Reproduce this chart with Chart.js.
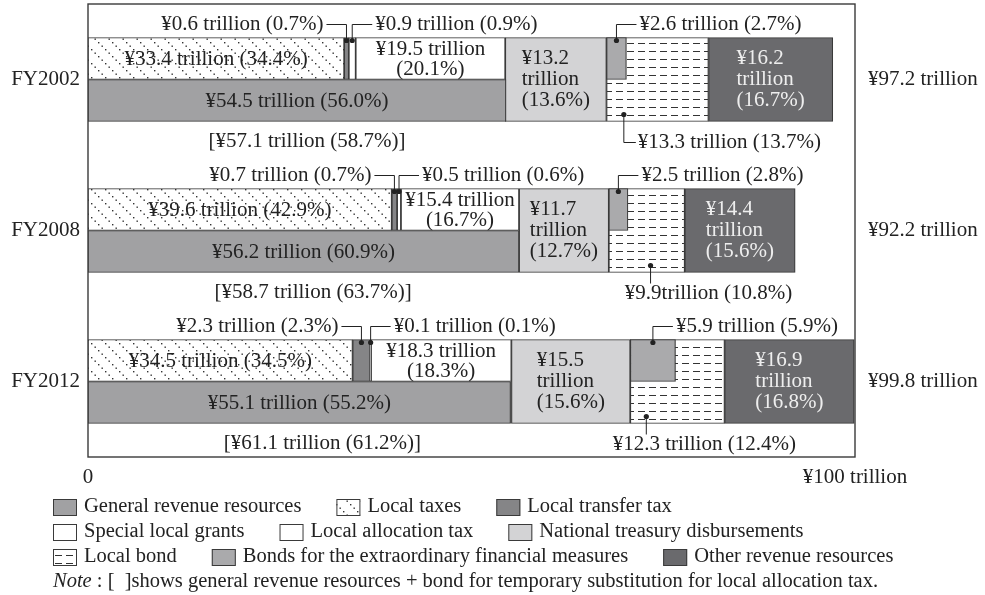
<!DOCTYPE html>
<html>
<head>
<meta charset="utf-8">
<script src="https://cdn.jsdelivr.net/npm/chart.js@4.4.1/dist/chart.umd.min.js"></script>
<style>
  html, body { margin: 0; padding: 0; background: #fff; }
  #wrap { width: 985px; height: 595px; }
</style>
</head>
<body>
<div id="wrap"><canvas id="chart"></canvas></div>
<script>
// Revenue breakdown, trillion yen and share of total (%)
const years = ['FY2002', 'FY2008', 'FY2012'];
const totals = [97.2, 92.2, 99.8];
const generalRevenue = [54.5, 56.2, 55.1];
const generalRevenuePct = [56.0, 60.9, 55.2];
const generalPlusTempBond = [57.1, 58.7, 61.1];
const generalPlusTempBondPct = [58.7, 63.7, 61.2];
const localTaxes = [33.4, 39.6, 34.5];
const localTaxesPct = [34.4, 42.9, 34.5];
const transferTax = [0.6, 0.7, 2.3];
const transferTaxPct = [0.7, 0.7, 2.3];
const specialGrants = [0.9, 0.5, 0.1];
const specialGrantsPct = [0.9, 0.6, 0.1];
const allocationTax = [19.5, 15.4, 18.3];
const allocationTaxPct = [20.1, 16.7, 18.3];
const treasury = [13.2, 11.7, 15.5];
const treasuryPct = [13.6, 12.7, 15.6];
const localBond = [13.3, 9.9, 12.3];
const localBondPct = [13.7, 10.8, 12.4];
const extraBond = [2.6, 2.5, 5.9];
const extraBondPct = [2.7, 2.8, 5.9];
const otherRevenue = [16.2, 14.4, 16.9];
const otherRevenuePct = [16.7, 15.6, 16.8];
const xTicks = [0, 100];
const xTickLabels = ['0', '¥100 trillion'];
const noteText = ' : [  ]shows general revenue resources + bond for temporary substitution for local allocation tax.';

const FONT = '21px "Liberation Serif", "Times New Roman", serif';
const LEGEND_FONT = '20.5px "Liberation Serif", "Times New Roman", serif';
const INK = '#222';
const HALF = 42, FULL = 84;

// floating segments laid end to end
const after = (starts, vals) => vals.map((v, i) => [starts[i], starts[i] + v]);
const ends = segs => segs.map(s => s[1]);
const zero = years.map(() => 0);

const segLocalTaxes = after(zero, localTaxes);
const segTransfer = after(ends(segLocalTaxes), transferTax);
const segSpecial = after(ends(segTransfer), specialGrants);
const segAllocation = after(ends(segSpecial), allocationTax);
const segTreasury = after(ends(segAllocation), treasury);
const segBond = after(ends(segTreasury), localBond);
const segExtra = after(ends(segTreasury), extraBond);
const segOther = after(ends(segBond), otherRevenue);

function makePattern(w, h, draw) {
  const c = document.createElement('canvas');
  c.width = w; c.height = h;
  const g = c.getContext('2d');
  g.fillStyle = '#fff';
  g.fillRect(0, 0, w, h);
  g.fillStyle = '#333';
  draw(g);
  return g.createPattern(c, 'repeat');
}
const dotPattern = makePattern(14, 14, g => {
  for (let k = 0; k < 4; k++) g.fillRect(k * 3.5, k * 3.5, 1.4, 1.4);
});
const dashPattern = makePattern(11, 8, g => g.fillRect(0, 3, 7, 1));

const bar = (extra) => Object.assign({
  borderColor: '#3a3a3a', borderWidth: 1.2, borderSkipped: false
}, extra);

const datasets = [
  bar({ label: 'General revenue resources', data: after(zero, generalRevenue), backgroundColor: '#a1a1a3',
        stack: 'lower', barThickness: HALF, values: generalRevenue, pcts: generalRevenuePct, mode: 'one',
        bracket: generalPlusTempBond, bracketPct: generalPlusTempBondPct }),
  bar({ label: 'Local taxes', data: segLocalTaxes, backgroundColor: dotPattern,
        stack: 'upper', barThickness: HALF, values: localTaxes, pcts: localTaxesPct, mode: 'one' }),
  bar({ label: 'Local transfer tax', data: segTransfer, backgroundColor: '#858587',
        stack: 'upper', barThickness: HALF, values: transferTax, pcts: transferTaxPct, mode: 'upLeft' }),
  bar({ label: 'Special local grants', data: segSpecial, backgroundColor: '#ffffff',
        stack: 'upper', barThickness: HALF, values: specialGrants, pcts: specialGrantsPct, mode: 'upRight' }),
  bar({ label: 'Local allocation tax', data: segAllocation, backgroundColor: '#ffffff',
        stack: 'upper', barThickness: HALF, values: allocationTax, pcts: allocationTaxPct, mode: 'two' }),
  bar({ label: 'National treasury disbursements', data: segTreasury, backgroundColor: '#d3d3d5',
        grouped: false, barThickness: FULL, values: treasury, pcts: treasuryPct, mode: 'three' }),
  bar({ label: 'Local bond', data: segBond, backgroundColor: dashPattern,
        grouped: false, barThickness: FULL, values: localBond, pcts: localBondPct,
        mode: ['downRight', 'down', 'down'], anchor: [0.17, 0.55, 0.17], unitGap: [' ', '', ' '] }),
  bar({ label: 'Bonds for the extraordinary financial measures', data: segExtra, backgroundColor: '#aaaaac',
        stack: 'upper', barThickness: HALF, order: -1, values: extraBond, pcts: extraBondPct, mode: 'upRight' }),
  bar({ label: 'Other revenue resources', data: segOther, backgroundColor: '#6a6a6d',
        grouped: false, barThickness: FULL, values: otherRevenue, pcts: otherRevenuePct, mode: 'three',
        textColor: '#eeeeee' })
];

function dot(ctx, x, y) {
  ctx.beginPath();
  ctx.arc(x, y, 2.6, 0, Math.PI * 2);
  ctx.fill();
}
function path(ctx, pts) {
  ctx.beginPath();
  ctx.moveTo(pts[0][0], pts[0][1]);
  pts.slice(1).forEach(p => ctx.lineTo(p[0], p[1]));
  ctx.stroke();
}

const segmentLabels = {
  id: 'segmentLabels',
  afterDatasetsDraw(chart) {
    const { ctx } = chart;
    const xs = chart.scales.x;
    ctx.save();
    ctx.font = FONT;
    ctx.textBaseline = 'middle';
    ctx.lineWidth = 1;
    ctx.strokeStyle = INK;
    chart.data.datasets.forEach((ds, di) => {
      chart.getDatasetMeta(di).data.forEach((el, i) => {
        const p = el.getProps(['x', 'y', 'base', 'height'], true);
        const left = Math.min(p.x, p.base), right = Math.max(p.x, p.base);
        const cx = (left + right) / 2;
        const top = p.y - p.height / 2, bottom = p.y + p.height / 2;
        const v = ds.values[i].toFixed(1), pc = ds.pcts[i].toFixed(1);
        const gap = ds.unitGap ? ds.unitGap[i] : ' ';
        const text = `¥${v}${gap}trillion (${pc}%)`;
        const mode = Array.isArray(ds.mode) ? ds.mode[i] : ds.mode;
        ctx.fillStyle = ds.textColor || INK;
        ctx.textAlign = 'center';
        if (mode === 'one') {
          ctx.fillText(text, cx, p.y + 1);
        } else if (mode === 'two') {
          ctx.fillText(`¥${v} trillion`, cx, p.y - 9);
          ctx.fillText(`(${pc}%)`, cx, p.y + 11);
        } else if (mode === 'three') {
          const lines = [`¥${v}`, 'trillion', `(${pc}%)`];
          const w = Math.max(...lines.map(t => ctx.measureText(t).width));
          ctx.textAlign = 'left';
          lines.forEach((t, k) => ctx.fillText(t, cx - w / 2, p.y + (k - 1) * 21));
        } else if (mode === 'upLeft' || mode === 'upRight') {
          const dir = mode === 'upLeft' ? -1 : 1;
          const ty = top - 13;
          dot(ctx, cx, top + 3);
          path(ctx, [[cx, top + 3], [cx, ty], [cx + dir * 20, ty]]);
          ctx.textAlign = dir < 0 ? 'right' : 'left';
          ctx.fillText(text, cx + dir * 23, ty);
        } else if (mode === 'downRight' || mode === 'down') {
          const dx = left + ds.anchor[i] * (right - left);
          const ty = bottom + 21;
          dot(ctx, dx, bottom - 7);
          if (mode === 'downRight') {
            path(ctx, [[dx, bottom - 7], [dx, ty], [dx + 12, ty]]);
            ctx.textAlign = 'left';
            ctx.fillText(text, dx + 14, ty);
          } else {
            path(ctx, [[dx, bottom - 7], [dx, ty - 10]]);
            ctx.fillText(text, dx + 58, ty);
          }
        }
        if (ds.bracket) {
          ctx.fillStyle = INK;
          ctx.textAlign = 'center';
          const b = ds.bracket[i];
          ctx.fillText(`[¥${b.toFixed(1)} trillion (${ds.bracketPct[i].toFixed(1)}%)]`,
            xs.getPixelForValue(b / 2), bottom + 20);
        }
      });
    });
    ctx.restore();
  }
};

const frame = {
  id: 'frame',
  beforeDatasetsDraw(chart) {
    const { ctx, chartArea: a } = chart;
    ctx.save();
    ctx.strokeStyle = '#3a3a3a';
    ctx.lineWidth = 1.4;
    ctx.strokeRect(a.left, a.top, a.right - a.left, a.bottom - a.top);
    ctx.restore();
  }
};

const gridLegend = {
  id: 'gridLegend',
  afterDraw(chart) {
    const { ctx } = chart;
    const perRow = 3, left = 53, rowGap = 25;
    let x = left, y = 507;
    ctx.save();
    ctx.font = LEGEND_FONT;
    ctx.textBaseline = 'middle';
    ctx.textAlign = 'left';
    chart.data.datasets.forEach((ds, i) => {
      if (i > 0 && i % perRow === 0) { x = left; y += rowGap; }
      ctx.fillStyle = ds.backgroundColor;
      ctx.fillRect(x, y - 8, 24, 17);
      ctx.strokeStyle = '#3a3a3a';
      ctx.lineWidth = 1;
      ctx.strokeRect(x + 0.5, y - 7.5, 23, 16);
      ctx.fillStyle = INK;
      ctx.fillText(ds.label, x + 31, y);
      x += 31 + ctx.measureText(ds.label).width + 35;
    });
    y += rowGap;
    ctx.font = 'italic ' + LEGEND_FONT;
    ctx.fillText('Note', left, y);
    const w = ctx.measureText('Note').width;
    ctx.font = LEGEND_FONT;
    ctx.fillText(noteText, left + w, y);
    ctx.restore();
  }
};

const tickFont = { family: '"Liberation Serif", "Times New Roman", serif', size: 21 };
// fix axis sizes so the plot box sits where the figure has it
const fitTo = (size) => (s) => {
  if (s.isHorizontal()) s.height = size; else s.width = size;
  s.paddingTop = s.paddingBottom = s.paddingLeft = s.paddingRight = 0;
};
const noGrid = { display: false, drawTicks: false };

new Chart(document.getElementById('chart'), {
  type: 'bar',
  data: { labels: years, datasets },
  plugins: [frame, segmentLabels, gridLegend],
  options: {
    indexAxis: 'y',
    responsive: true,
    maintainAspectRatio: false,
    animation: false,
    layout: { padding: { left: 10, right: 4, top: 4, bottom: 104 } },
    plugins: { legend: { display: false }, tooltip: { enabled: false } },
    scales: {
      x: {
        type: 'linear', min: 0, max: 100, stacked: false,
        afterBuildTicks: s => { s.ticks = xTicks.map(v => ({ value: v })); },
        afterFit: fitTo(34),
        ticks: { callback: (v, i) => xTickLabels[i], padding: 8, color: INK, font: tickFont,
                 autoSkip: false, maxRotation: 0 },
        grid: noGrid,
        border: { display: false }
      },
      y: {
        type: 'category', offset: true,
        afterFit: fitTo(78),
        ticks: { padding: 8, color: INK, font: tickFont },
        grid: noGrid,
        border: { display: false }
      },
      y2: {
        type: 'category', position: 'right', offset: true,
        labels: totals.map(v => `¥${v.toFixed(1)} trillion`),
        afterFit: fitTo(126),
        ticks: { padding: 13, color: INK, font: tickFont },
        grid: noGrid,
        border: { display: false }
      }
    }
  }
});
</script>
</body>
</html>
